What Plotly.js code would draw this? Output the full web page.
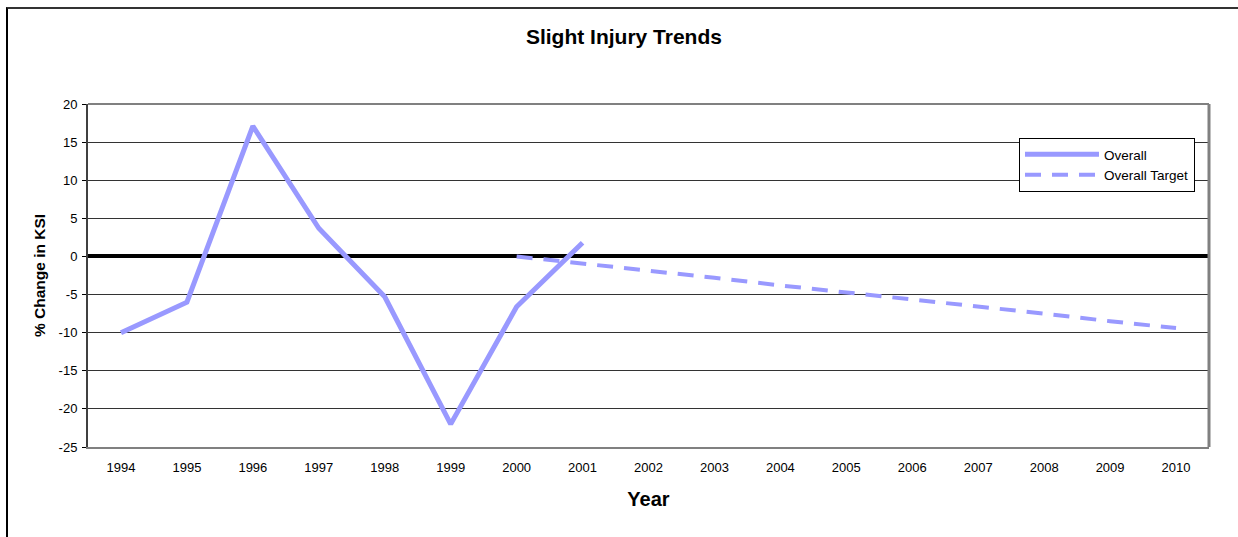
<!DOCTYPE html>
<html>
<head>
<meta charset="utf-8">
<script src="https://cdn.plot.ly/plotly-3.0.1.min.js"></script>
<style>
  html, body { margin: 0; padding: 0; background: #fff; }
  #wrap { position: relative; width: 1238px; height: 537px; overflow: hidden; }
  #chart { width: 1238px; height: 537px; }
  #frame { position: absolute; left: 6px; top: 7px; width: 1300px; height: 600px;
           border-left: 2px solid #000; border-top: 2px solid #333; pointer-events: none; }
</style>
</head>
<body>
<div id="wrap">
  <div id="chart"></div>
  <div id="frame"></div>
</div>
<script>
// ---- data ----
const years = ['1994','1995','1996','1997','1998','1999','2000','2001','2002',
               '2003','2004','2005','2006','2007','2008','2009','2010'];
const overall = [-10.0, -6.0, 17.1, 3.7, -5.3, -22.0, -6.6, 1.8,
                 null, null, null, null, null, null, null, null, null];
const overallTarget = [null, null, null, null, null, null,
                       0.0, -0.9, -1.9, -2.8, -3.8, -4.7, -5.6, -6.6, -7.5, -8.5, -9.4];
const yTicks = [-25, -20, -15, -10, -5, 0, 5, 10, 15, 20];

const lineColor = '#9999FF';
const fontFam = 'Liberation Sans, Arial, sans-serif';

const traces = [
  { x: years, y: overall, name: 'Overall', type: 'scatter', mode: 'lines',
    line: { color: lineColor, width: 5 }, connectgaps: false },
  { x: years, y: overallTarget, name: 'Overall Target', type: 'scatter', mode: 'lines',
    line: { color: lineColor, width: 4, dash: '16px,11px' }, connectgaps: false }
];

const layout = {
  width: 1238, height: 537,
  margin: { l: 88, r: 29, t: 104, b: 90 },
  paper_bgcolor: '#fff', plot_bgcolor: '#fff',
  font: { family: fontFam, color: '#000', size: 13 },
  title: { text: '<b>Slight Injury Trends</b>', font: { family: fontFam, size: 21, color: '#000' },
           xref: 'container', x: 0.504, xanchor: 'center',
           yref: 'container', y: 0.931, yanchor: 'middle' },
  xaxis: {
    type: 'category', range: [-0.5, 16.5],
    showgrid: false, zeroline: false,
    showline: true, linecolor: '#808080', linewidth: 2, mirror: false,
    ticks: '', ticklabelstandoff: 7, tickfont: { family: fontFam, size: 13, color: '#000' },
    title: { text: '<b>Year</b>', font: { family: fontFam, size: 20, color: '#000' }, standoff: 18 },
    fixedrange: true
  },
  yaxis: {
    range: [-25, 20], tickvals: yTicks, ticktext: yTicks.map(String),
    showgrid: true, gridcolor: '#333', gridwidth: 1,
    zeroline: true, zerolinecolor: '#000', zerolinewidth: 4,
    showline: true, linecolor: '#404040', linewidth: 2,
    ticks: 'outside', ticklen: 4, tickcolor: '#000', tickwidth: 1, ticklabelstandoff: 2,
    tickfont: { family: fontFam, size: 13, color: '#000' },
    title: { text: '<b>% Change in KSI</b>', font: { family: fontFam, size: 15.5, color: '#000' }, standoff: 9 },
    fixedrange: true
  },
  showlegend: true,
  legend: {
    x: 0.8305, y: 0.9009, xanchor: 'left', yanchor: 'top',
    bgcolor: '#fff', bordercolor: '#000', borderwidth: 1,
    font: { family: fontFam, size: 13.5, color: '#000' },
    itemwidth: 74, tracegroupgap: 0
  },
  shapes: [
    { type: 'line', xref: 'paper', yref: 'paper', x0: 1, x1: 1, y0: 0, y1: 1,
      line: { color: '#808080', width: 3 } },
    { type: 'line', xref: 'paper', yref: 'paper', x0: 0, x1: 1, y0: 1, y1: 1,
      line: { color: '#808080', width: 2 } }
  ]
};

Plotly.newPlot('chart', traces, layout, { displayModeBar: false, staticPlot: true });
</script>
</body>
</html>
